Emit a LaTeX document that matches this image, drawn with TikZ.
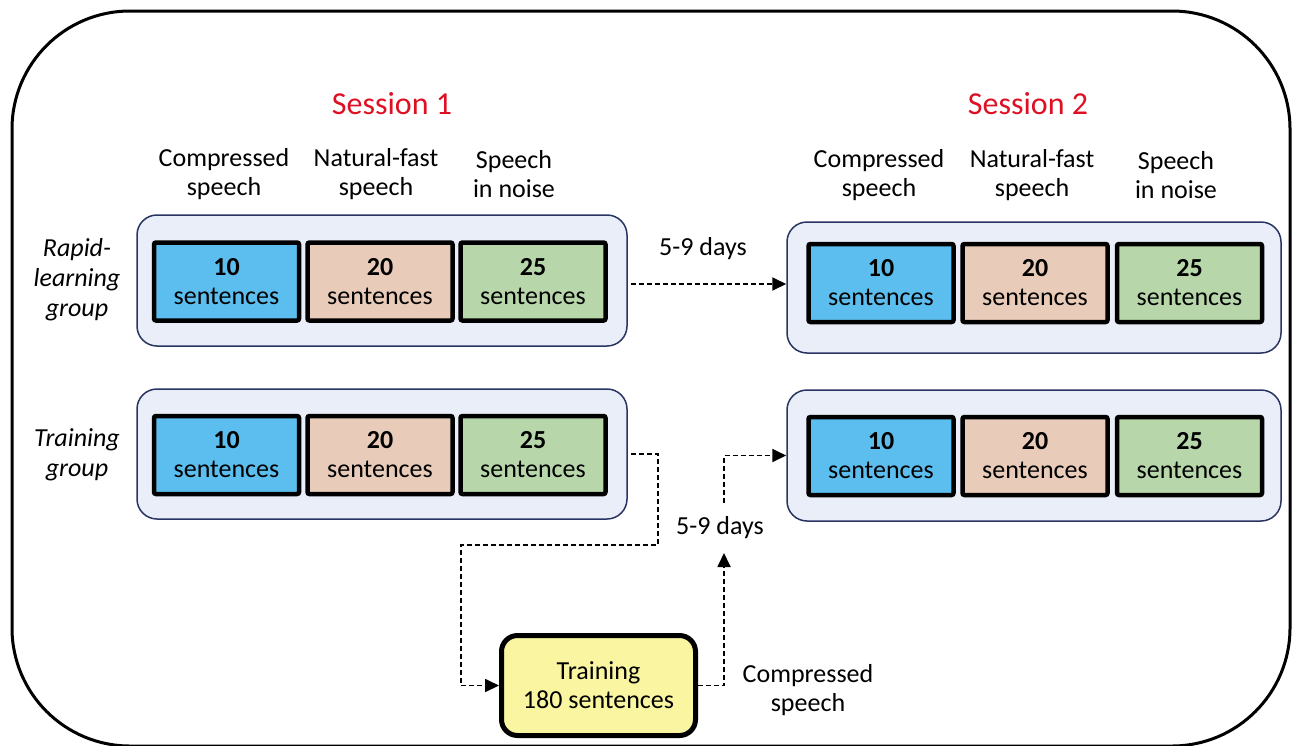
\documentclass[tikz,border=0pt]{standalone}
\usepackage{fontspec}
\setmainfont{Carlito}
\usetikzlibrary{arrows.meta,calc}

\definecolor{sessred}{RGB}{222,16,36}
\definecolor{contfill}{RGB}{233,238,248}
\definecolor{contline}{RGB}{40,52,98}
\definecolor{cblue}{RGB}{92,190,238}
\definecolor{cbeige}{RGB}{232,203,184}
\definecolor{cgreen}{RGB}{183,215,171}
\definecolor{cyellow}{RGB}{250,245,160}

\tikzset{
  txt/.style={font=\fontsize{26}{29}\selectfont, align=center, inner sep=0pt},
  grp/.style={txt, font=\fontsize{26}{30}\selectfont\itshape},
  sess/.style={font=\fontsize{32}{36}\selectfont, text=sessred, inner sep=0pt},
  cont/.style={draw=contline, line width=1.5pt, fill=contfill, rounded corners=20pt},
  cell/.style={draw=black, line width=4.5pt, rounded corners=2pt, txt,
               minimum width=145pt, minimum height=78pt},
  cellA/.style={cell, fill=cblue},
  cellB/.style={cell, fill=cbeige},
  cellC/.style={cell, fill=cgreen},
  trainbox/.style={draw=black, line width=5pt, fill=cyellow, rounded corners=16pt, txt,
                   minimum width=194pt, minimum height=100pt},
  link/.style={line width=1.8pt, dash pattern=on 5pt off 3pt},
  linkarrow/.style={link, -{Triangle[length=14pt,width=13pt]}},
}

\newcommand{\cellnum}[1]{\textbf{#1}\\sentences}

\begin{document}
\begin{tikzpicture}[x=1pt,y=-1pt]
\useasboundingbox (0,0) rectangle (1295,745);

% outer frame
\draw[line width=3pt, rounded corners=118pt] (12,11) rectangle (1290,746);

% session titles
\node[sess] (s1title) at (392,104) {Session 1};
\node[sess] (s2title) at (1028,104) {Session 2};

% column headers
\node[txt] (h1a) at (224,174) {Compressed\\speech};
\node[txt] (h1b) at (376,174) {Natural-fast\\speech};
\node[txt] (h1c) at (514,174) {Speech\\in noise};
\node[txt] (h2a) at (879,175.5) {Compressed\\speech};
\node[txt] (h2b) at (1032,175.5) {Natural-fast\\speech};
\node[txt] (h2c) at (1176,175.5) {Speech\\in noise};

% group labels
\node[grp] (grpA) at (77,280) {Rapid-\\learning\\group};
\node[grp] (grpB) at (77,455) {Training\\group};

% containers
\node[cont, minimum width=490pt, minimum height=131pt] (s1r) at (382,280.5) {};
\node[cont, minimum width=490pt, minimum height=130pt] (s1t) at (382,454) {};
\node[cont, minimum width=494pt, minimum height=131pt] (s2r) at (1034,287.5) {};
\node[cont, minimum width=494pt, minimum height=131pt] (s2t) at (1034,455.5) {};

% session 1, rapid-learning group
\node[cellA] (s1ra) at (226.5,281.5) {\cellnum{10}};
\node[cellB] (s1rb) at (380,281.5) {\cellnum{20}};
\node[cellC] (s1rc) at (533,281.5) {\cellnum{25}};
% session 1, training group
\node[cellA] (s1ta) at (226.5,455) {\cellnum{10}};
\node[cellB] (s1tb) at (380,455) {\cellnum{20}};
\node[cellC] (s1tc) at (533,455) {\cellnum{25}};
% session 2, rapid-learning group
\node[cellA] (s2ra) at (881,283) {\cellnum{10}};
\node[cellB] (s2rb) at (1035,283) {\cellnum{20}};
\node[cellC] (s2rc) at (1189.5,283) {\cellnum{25}};
% session 2, training group
\node[cellA] (s2ta) at (881,456) {\cellnum{10}};
\node[cellB] (s2tb) at (1035,456) {\cellnum{20}};
\node[cellC] (s2tc) at (1189.5,456) {\cellnum{25}};

% training block
\node[trainbox] (train) at (598.5,685.5) {Training\\180 sentences};
\node[txt] (trainlbl) at (808,690.5) {Compressed\\speech};

% interval labels
\node[txt] (days1) at (703,249) {5-9 days};
\node[txt] (days2) at (720,528) {5-9 days};

% connector ends around the second interval label
\coordinate (d2in) at (724,553);
\coordinate (d2out) at (724,503);

% rapid-learning group: session 1 -> session 2 (horizontal)
\draw[linkarrow] ([xshift=3pt,yshift=-3.5pt]s1r.east) -- ([yshift=3.5pt]s2r.west);

% training group: session 1 -> training
\draw[linkarrow] ([xshift=3pt]s1t.east) -- (658,454) -- (658,545) -- (461,545)
  |- (train.west);

% training -> session 2
\draw[linkarrow] (train.east) -| (d2in);
\draw[linkarrow] (d2out) |- (s2t.west);
\end{tikzpicture}
\end{document}
